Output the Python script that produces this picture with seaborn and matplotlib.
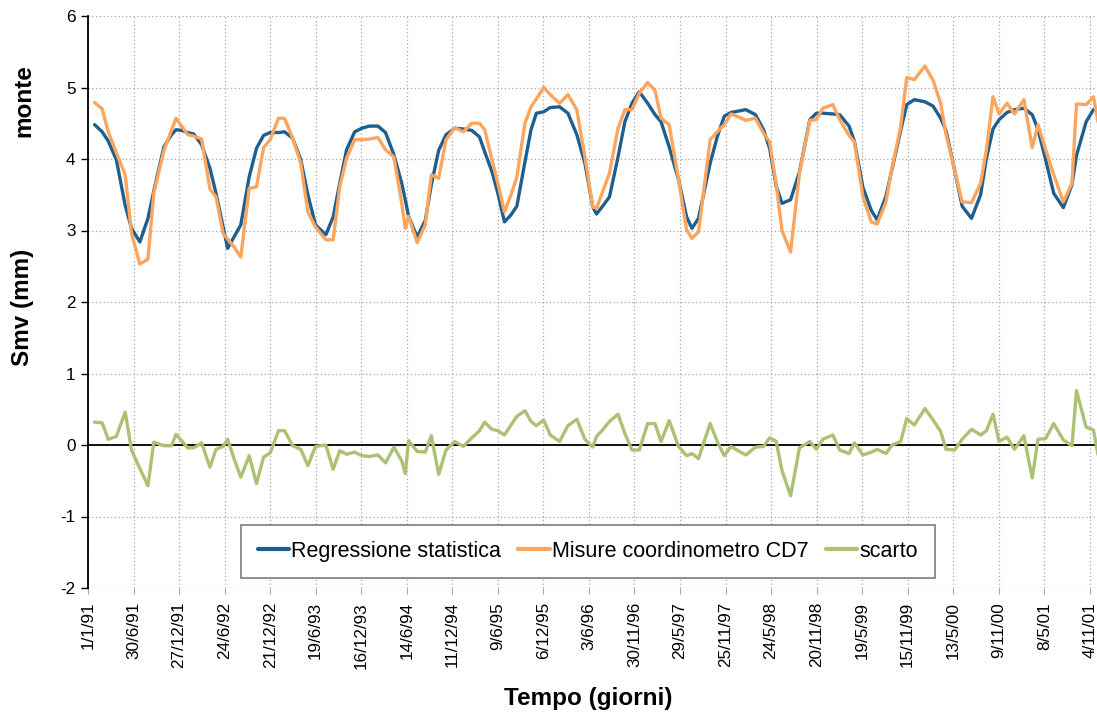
import numpy as np
import pandas as pd
import matplotlib
matplotlib.use("Agg")
import matplotlib.pyplot as plt
import seaborn as sns

# Measurement days counted from 1 January 1991
giorni = [26, 56, 80, 112, 147, 172, 205, 237, 260, 300,
          330, 348, 370, 394, 418, 449, 482, 506, 534, 552,
          577, 604, 637, 666, 694, 720, 753, 777, 809, 841,
          869, 899, 940, 969, 995, 1022, 1054, 1082, 1112, 1146,
          1176, 1209, 1240, 1254, 1267, 1301, 1333, 1357, 1386, 1415,
          1450, 1483, 1517, 1547, 1568, 1596, 1620, 1646, 1672, 1695,
          1727, 1751, 1772, 1801, 1827, 1864, 1897, 1932, 1964, 1995,
          2010, 2034, 2061, 2095, 2122, 2150, 2179, 2212, 2241, 2265,
          2297, 2334, 2366, 2387, 2413, 2459, 2487, 2515, 2541, 2570,
          2600, 2638, 2670, 2694, 2720, 2743, 2777, 2812, 2853, 2879,
          2904, 2944, 2971, 3008, 3029, 3063, 3096, 3119, 3154, 3178,
          3212, 3236, 3266, 3308, 3340, 3370, 3391, 3425, 3455, 3492,
          3528, 3551, 3577, 3601, 3632, 3662, 3699, 3732, 3755, 3785,
          3817, 3855, 3889, 3907, 3945, 3974, 4003]

regressione = [4.48, 4.38, 4.25, 3.99, 3.35, 3.03, 2.84, 3.17, 3.55, 4.17,
               4.34, 4.41, 4.40, 4.37, 4.35, 4.20, 3.87, 3.52, 3.05, 2.75,
               2.91, 3.08, 3.75, 4.15, 4.33, 4.37, 4.37, 4.38, 4.29, 3.99,
               3.50, 3.08, 2.94, 3.19, 3.66, 4.13, 4.38, 4.43, 4.46, 4.46,
               4.37, 4.06, 3.66, 3.43, 3.20, 2.91, 3.14, 3.64, 4.12, 4.34,
               4.43, 4.42, 4.40, 4.31, 4.10, 3.83, 3.52, 3.12, 3.22, 3.34,
               3.96, 4.41, 4.64, 4.66, 4.72, 4.73, 4.64, 4.34, 3.94, 3.33,
               3.23, 3.34, 3.47, 4.03, 4.52, 4.78, 4.94, 4.78, 4.62, 4.52,
               4.17, 3.71, 3.19, 3.03, 3.17, 3.94, 4.31, 4.60, 4.65, 4.67,
               4.69, 4.62, 4.41, 4.15, 3.62, 3.38, 3.43, 3.82, 4.55, 4.64,
               4.64, 4.63, 4.62, 4.46, 4.25, 3.60, 3.28, 3.15, 3.48, 3.86,
               4.40, 4.76, 4.83, 4.80, 4.74, 4.57, 4.40, 3.85, 3.34, 3.17,
               3.50, 4.01, 4.42, 4.55, 4.65, 4.69, 4.71, 4.62, 4.41, 3.99,
               3.52, 3.32, 3.64, 4.05, 4.52, 4.69, 4.70]

misure = [4.79, 4.70, 4.38, 4.09, 3.78, 2.96, 2.53, 2.60, 3.52, 4.12,
          4.40, 4.57, 4.46, 4.34, 4.32, 4.28, 3.58, 3.47, 2.96, 2.88,
          2.77, 2.63, 3.59, 3.61, 4.16, 4.27, 4.57, 4.57, 4.29, 3.94,
          3.26, 3.05, 2.87, 2.87, 3.61, 4.01, 4.27, 4.27, 4.28, 4.30,
          4.13, 4.03, 3.38, 3.03, 3.20, 2.83, 3.08, 3.78, 3.73, 4.27,
          4.44, 4.38, 4.50, 4.50, 4.41, 4.00, 3.66, 3.26, 3.50, 3.75,
          4.50, 4.73, 4.84, 5.00, 4.90, 4.78, 4.90, 4.69, 4.03, 3.33,
          3.31, 3.54, 3.80, 4.43, 4.69, 4.69, 4.92, 5.07, 4.96, 4.57,
          4.48, 3.71, 3.01, 2.89, 2.98, 4.27, 4.38, 4.48, 4.63, 4.59,
          4.54, 4.57, 4.36, 4.24, 3.65, 3.00, 2.70, 3.80, 4.54, 4.55,
          4.71, 4.76, 4.55, 4.33, 4.24, 3.47, 3.12, 3.09, 3.40, 3.88,
          4.45, 5.14, 5.11, 5.30, 5.10, 4.78, 4.35, 3.85, 3.40, 3.39,
          3.66, 4.13, 4.87, 4.63, 4.78, 4.63, 4.83, 4.16, 4.48, 4.13,
          3.78, 3.40, 3.66, 4.77, 4.76, 4.87, 4.30]

scarto = [0.32, 0.31, 0.08, 0.12, 0.46, -0.07, -0.33, -0.57, 0.04, -0.01,
          -0.01, 0.15, 0.06, -0.04, -0.04, 0.03, -0.31, -0.06, -0.02, 0.08,
          -0.19, -0.45, -0.15, -0.54, -0.17, -0.11, 0.20, 0.20, -0.01, -0.06,
          -0.29, -0.02, 0.00, -0.34, -0.08, -0.13, -0.10, -0.15, -0.16, -0.14,
          -0.25, -0.03, -0.22, -0.40, 0.06, -0.09, -0.10, 0.13, -0.41, -0.07,
          0.05, -0.02, 0.10, 0.20, 0.32, 0.22, 0.20, 0.14, 0.28, 0.40,
          0.48, 0.33, 0.27, 0.35, 0.14, 0.05, 0.27, 0.36, 0.08, -0.03,
          0.12, 0.21, 0.33, 0.43, 0.16, -0.07, -0.07, 0.30, 0.30, 0.05,
          0.34, -0.02, -0.15, -0.12, -0.19, 0.30, 0.05, -0.15, -0.02, -0.08,
          -0.14, -0.03, -0.02, 0.10, 0.05, -0.36, -0.71, -0.04, 0.05, -0.06,
          0.08, 0.14, -0.07, -0.12, 0.03, -0.14, -0.10, -0.06, -0.12, 0.00,
          0.05, 0.37, 0.28, 0.51, 0.35, 0.19, -0.06, -0.07, 0.08, 0.22,
          0.14, 0.20, 0.43, 0.05, 0.11, -0.06, 0.13, -0.46, 0.08, 0.09,
          0.30, 0.07, -0.01, 0.76, 0.25, 0.21, -0.35]

serie = ["Regressione statistica", "Misure coordinometro CD7", "scarto"]
colori = ["#1F5F8E", "#FBA55E", "#ADC173"]

assert len(giorni) == len(regressione) == len(misure) == len(scarto)

origine = pd.Timestamp("1991-01-01")
date = origine + pd.to_timedelta(giorni, unit="D")

sns.set_theme(style="white")
plt.rcParams["font.family"] = ["Liberation Sans", "DejaVu Sans"]
plt.rcParams["text.color"] = "black"
plt.rcParams["axes.labelcolor"] = "black"
plt.rcParams["xtick.color"] = "black"
plt.rcParams["ytick.color"] = "black"

W, H = 1097, 713
fig = plt.figure(figsize=(W / 100, H / 100), dpi=100)
ax = fig.add_axes([88 / W, 1 - 588 / H, (W - 88) / W, (588 - 16) / H])

for nome, valori, col in zip(serie, [regressione, misure, scarto], colori):
    sns.lineplot(x=date, y=valori, ax=ax, color=col, linewidth=2.4,
                 label=nome, zorder=3)

# axes ranges and ticks (one tick every 180 days)
fine = origine + pd.Timedelta(days=3988)
ax.set_xlim(origine, fine)
ax.set_ylim(-2, 6)
ax.set_yticks(np.arange(-2, 7, 1))
ax.set_yticklabels([str(v) for v in range(-2, 7)], fontsize=12.3)

tick_date = [origine + pd.Timedelta(days=180 * i) for i in range(23)]
ax.set_xticks(tick_date)
ax.set_xticklabels([f"{d.day}/{d.month}/{d.year % 100:02d}" for d in tick_date],
                   rotation=90, fontsize=12.3, va="top", ha="center")

ax.grid(True, color="#a6a6a6", linestyle=(0, (1.0, 2.0)), linewidth=0.9)
ax.set_axisbelow(True)
ax.axhline(0, color="black", linewidth=1.3, zorder=2)

for s in ["top", "right", "bottom"]:
    ax.spines[s].set_visible(False)
ax.spines["left"].set_color("black")
ax.spines["left"].set_linewidth(1.3)
ax.tick_params(axis="y", which="major", left=True, length=5, width=1,
               color="black", pad=4, labelcolor="black")
ax.tick_params(axis="x", which="major", bottom=True, length=4, width=0.8,
               color="#a6a6a6", pad=6, labelcolor="black")
ax.set_xlabel("")
ax.set_ylabel("")

fig.text(22 / W, 1 - 307 / H, "Smv (mm)", rotation=90, ha="center",
         va="center", fontsize=17.5, fontweight="bold", color="black")
fig.text(24 / W, 1 - 101 / H, "monte", rotation=90, ha="center",
         va="center", fontsize=17.5, fontweight="bold", color="black")
fig.text(588 / W, 1 - 699 / H, "Tempo (giorni)", ha="center",
         va="center", fontsize=17.5, fontweight="bold", color="black")

leg = ax.legend(loc="center", bbox_to_anchor=(588 / W, 1 - 551.5 / H),
                bbox_transform=fig.transFigure, ncol=3, fontsize=15.5,
                frameon=True, fancybox=False, framealpha=1,
                edgecolor="#7a7a7a", handlelength=1.45, handletextpad=0.12,
                columnspacing=0.8, borderpad=0.75)
leg.get_frame().set_linewidth(1.2)
for line in leg.get_lines():
    line.set_linewidth(3.0)
for t in leg.get_texts():
    t.set_color("black")

fig.savefig("out.png", dpi=100)
